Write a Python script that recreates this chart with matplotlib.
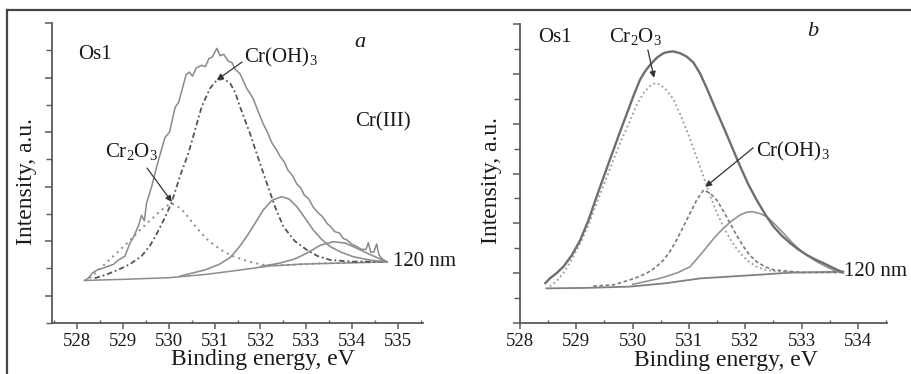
import matplotlib
matplotlib.use("Agg")
import matplotlib.pyplot as plt
from matplotlib.lines import Line2D
from matplotlib.ticker import MultipleLocator

plt.rcParams['font.family'] = ['Liberation Serif', 'DejaVu Serif']
plt.rcParams['mathtext.fontset'] = 'custom'
plt.rcParams['mathtext.rm'] = 'Liberation Serif'
plt.rcParams['mathtext.it'] = 'Liberation Serif:italic'
plt.rcParams['mathtext.default'] = 'regular'

# ---- panel a : spectrum and fitted components (eV, a.u.) ----
env_a_x = [528.17, 528.25, 528.35, 528.45, 528.55, 528.68, 528.8, 528.9, 529.05, 529.15,
           529.25, 529.35, 529.41, 529.47, 529.52, 529.63, 529.72, 529.8, 529.92, 530.02,
           530.14, 530.22, 530.3, 530.38, 530.45, 530.52, 530.6, 530.72, 530.8, 530.88,
           530.95, 531.05, 531.12, 531.2, 531.3, 531.38, 531.45, 531.55, 531.62, 531.7,
           531.78, 531.85, 531.95, 532.06, 532.15, 532.25, 532.35, 532.43, 532.52, 532.6,
           532.7, 532.79, 532.88, 532.95, 533.05, 533.15, 533.25, 533.35, 533.45, 533.52,
           533.62, 533.72, 533.8, 533.88, 533.98, 534.1, 534.2, 534.3, 534.35, 534.4,
           534.47, 534.53, 534.58, 534.65, 534.76]
env_a_y = [1.56, 1.64, 1.85, 1.95, 2.0, 2.08, 2.15, 2.3, 2.45, 2.9,
           3.2, 3.6, 3.95, 3.75, 4.4, 5.0, 5.6, 6.1, 6.8, 7.0,
           7.9, 8.1, 8.6, 9.1, 9.2, 9.05, 9.35, 9.45, 9.4, 9.7,
           9.75, 10.07, 9.8, 9.85, 9.6, 9.55, 9.3, 9.15, 8.9, 8.6,
           8.4, 8.2, 7.75, 7.3, 7.0, 6.6, 6.35, 6.1, 5.9, 5.6,
           5.4, 5.1, 4.95, 4.7, 4.55, 4.25, 4.05, 3.9, 3.65, 3.55,
           3.35, 3.3, 3.1, 3.05, 2.9, 2.8, 2.7, 2.7, 2.95, 2.6,
           2.6, 2.9, 2.5, 2.35, 2.24]

cr2o3_a_x = [528.28, 528.7, 529.05, 529.4, 529.75, 529.92, 530.06, 530.2, 530.35, 530.5,
             530.68, 530.85, 531.0, 531.2, 531.4, 531.75, 532.1, 532.6, 533.2, 534.0, 534.76]
cr2o3_a_y = [1.64, 2.3, 2.85, 3.45, 4.0, 4.25, 4.39, 4.27, 4.05, 3.72,
             3.35, 3.05, 2.85, 2.62, 2.45, 2.25, 2.12, 2.12, 2.18, 2.22, 2.24]

croh_a_x = [528.39, 528.65, 528.9, 529.15, 529.41, 529.6, 529.75, 529.9, 530.06, 530.25,
            530.43, 530.58, 530.72, 530.9, 531.05, 531.2, 531.34, 531.45, 531.55, 531.66,
            531.77, 531.95, 532.14, 532.32, 532.5, 532.75, 533.01, 533.25, 533.52, 534.0, 534.68]
croh_a_y = [1.64, 1.78, 1.95, 2.15, 2.45, 2.85, 3.3, 3.8, 4.39, 5.4,
            6.22, 7.1, 7.93, 8.6, 8.91, 8.95, 8.79, 8.45, 7.95, 7.45,
            6.96, 6.05, 5.12, 4.25, 3.53, 3.0, 2.68, 2.45, 2.31, 2.25, 2.25]

c1_a_x = [530.25, 530.8, 531.1, 531.34, 531.52, 531.7, 531.88, 532.06, 532.25, 532.46,
          532.62, 532.79, 532.97, 533.15, 533.33, 533.52, 533.75, 534.02, 534.4, 534.76]
c1_a_y = [1.72, 1.95, 2.15, 2.4, 2.75, 3.17, 3.65, 4.14, 4.5, 4.63,
          4.55, 4.27, 3.85, 3.41, 3.07, 2.8, 2.6, 2.43, 2.3, 2.24]

c2_a_x = [532.0, 532.43, 532.75, 533.01, 533.3, 533.59, 533.85, 534.1, 534.4, 534.76]
c2_a_y = [2.07, 2.2, 2.35, 2.56, 2.85, 2.98, 2.93, 2.74, 2.5, 2.24]

base_a_x = [528.17, 529.0, 530.0, 530.8, 531.5, 532.2, 532.9, 533.6, 534.76]
base_a_y = [1.56, 1.6, 1.66, 1.78, 1.93, 2.09, 2.16, 2.19, 2.24]

# ---- panel b ----
env_b_x = [528.45, 528.53, 528.65, 528.77, 528.92, 529.07, 529.22, 529.36, 529.51, 529.66,
           529.78, 529.9, 530.02, 530.13, 530.22, 530.31, 530.43, 530.55, 530.63, 530.72,
           530.84, 530.96, 531.08, 531.2, 531.32, 531.46, 531.61, 531.76, 531.91, 532.05,
           532.2, 532.35, 532.5, 532.65, 532.8, 532.95, 533.09, 533.24, 533.39, 533.55, 533.73]
env_b_y = [1.6, 1.79, 2.0, 2.26, 2.72, 3.33, 4.15, 5.07, 6.02, 6.95,
           7.7, 8.42, 9.15, 9.76, 10.1, 10.36, 10.65, 10.83, 10.88, 10.9,
           10.83, 10.69, 10.45, 10.0, 9.4, 8.65, 7.88, 7.08, 6.28, 5.58,
           4.94, 4.37, 3.87, 3.5, 3.2, 2.94, 2.73, 2.55, 2.4, 2.22, 2.03]

cr2o3_b_x = [528.53, 528.65, 528.77, 528.92, 529.07, 529.22, 529.36, 529.51, 529.66, 529.8,
             529.95, 530.07, 530.19, 530.3, 530.4, 530.5, 530.6, 530.72, 530.85, 531.0,
             531.16, 531.32, 531.46, 531.61, 531.76, 531.91, 532.05, 532.2, 532.38, 532.56,
             533.0, 533.73]
cr2o3_b_y = [1.47, 1.68, 2.0, 2.55, 3.2, 3.95, 4.8, 5.68, 6.55, 7.35,
             8.1, 8.75, 9.22, 9.5, 9.63, 9.55, 9.35, 9.0, 8.35, 7.5,
             6.5, 5.47, 4.6, 3.87, 3.25, 2.8, 2.48, 2.26, 2.12, 2.06,
             2.03, 2.03]

croh_b_x = [529.3, 529.66, 529.95, 530.1, 530.25, 530.4, 530.55, 530.67, 530.78, 530.9,
            531.02, 531.14, 531.26, 531.38, 531.49, 531.61, 531.73, 531.85, 531.97, 532.08,
            532.2, 532.35, 532.5, 533.0, 533.73]
croh_b_y = [1.48, 1.53, 1.73, 1.85, 2.0, 2.22, 2.53, 2.9, 3.33, 3.87,
            4.41, 4.95, 5.34, 5.2, 4.94, 4.5, 4.0, 3.5, 3.06, 2.72,
            2.46, 2.26, 2.13, 2.03, 2.03]

c1_b_x = [530.0, 530.5, 530.8, 531.02, 531.17, 531.32, 531.46, 531.61, 531.76, 531.91,
          532.02, 532.12, 532.25, 532.38, 532.53, 532.68, 532.82, 532.97, 533.12, 533.27,
          533.42, 533.56, 533.74]
c1_b_y = [1.55, 1.8, 2.02, 2.26, 2.65, 3.06, 3.45, 3.8, 4.1, 4.34,
          4.44, 4.47, 4.4, 4.27, 3.95, 3.6, 3.25, 2.93, 2.68, 2.46,
          2.28, 2.13, 2.06]

base_b_x = [528.47, 529.2, 529.95, 530.6, 531.2, 532.2, 532.8, 533.74]
base_b_y = [1.39, 1.41, 1.46, 1.6, 1.79, 1.93, 2.02, 2.06]

W, H = 912, 374
fig = plt.figure(figsize=(W / 100, H / 100), dpi=100)

spine_col = '#5a5a5a'
txt_col = '#1a1a1a'


def setup(ax, xlim, ylim, xmajor, ymajor_off):
    ax.set_xlim(*xlim)
    ax.set_ylim(*ylim)
    for s in ('top', 'right'):
        ax.spines[s].set_visible(False)
    for s in ('left', 'bottom'):
        ax.spines[s].set_color(spine_col)
        ax.spines[s].set_linewidth(1.3)
    ax.set_xticks(xmajor)
    ax.set_xticklabels([str(v) for v in xmajor])
    ax.xaxis.set_minor_locator(MultipleLocator(0.5))
    ax.set_yticks([v for v in range(ymajor_off, int(ylim[1]) + 1, 2)])
    ax.yaxis.set_minor_locator(MultipleLocator(1))
    ax.set_yticklabels([])
    ax.tick_params(axis='x', which='major', direction='out', length=4, width=1.1,
                   color=spine_col, labelsize=13.5, pad=3, labelcolor=txt_col)
    ax.tick_params(axis='x', which='minor', direction='in', length=2.5, width=1.0, color=spine_col)
    ax.tick_params(axis='y', which='major', direction='out', length=5, width=1.1, color=spine_col)
    ax.tick_params(axis='y', which='minor', direction='out', length=4, width=1.0, color=spine_col)
    ax.set_facecolor('none')


# panel a axes: left spine at x=52px, bottom at y=323px
ax1 = fig.add_axes([52 / W, 1 - 323 / H, 371 / W, 300 / H])
setup(ax1, (527.46, 535.54), (0, 11), [528, 529, 530, 531, 532, 533, 534, 535], 1)

ax1.plot(base_a_x, base_a_y, color='#8c8c8c', lw=1.1)
ax1.plot(env_a_x, env_a_y, color='#8a8a8a', lw=1.1)
ax1.plot(cr2o3_a_x, cr2o3_a_y, color='#8a8a8a', lw=1.4, ls=(0, (1, 2.2)))
ax1.plot(croh_a_x, croh_a_y, color='#555555', lw=1.3, ls=(0, (3, 1.6, 1, 1.6)))
ax1.plot(c1_a_x, c1_a_y, color='#8f8f8f', lw=1.2)
ax1.plot(c2_a_x, c2_a_y, color='#8f8f8f', lw=1.2)

fs = 15
ax1.text(528.02, 9.83, 'Os1', fontsize=fs, color=txt_col, va='center', ha='left')
ax1.text(534.17, 10.30, 'a', fontsize=fs + 1, style='italic', color=txt_col, va='center', ha='center')
ax1.text(531.64, 9.72, r'Cr(OH)$_3$', fontsize=fs, color=txt_col, va='center', ha='left')
ax1.text(534.06, 7.37, 'Cr(III)', fontsize=fs, color=txt_col, va='center', ha='left')
ax1.text(528.61, 6.27, r'Cr$_2$O$_3$', fontsize=fs, color=txt_col, va='center', ha='left')
ax1.text(534.89, 2.24, '120 nm', fontsize=fs, color=txt_col, va='center', ha='left', clip_on=False)
arr = dict(arrowstyle='-|>', color='#333333', lw=0.9, mutation_scale=9, shrinkA=0, shrinkB=0)
ax1.annotate('', xy=(531.05, 8.91), xytext=(531.6, 9.57), arrowprops=arr)
ax1.annotate('', xy=(530.07, 4.44), xytext=(529.53, 5.68), arrowprops=arr)

ax1.set_xlabel('Binding energy, eV', fontsize=17, color=txt_col)
ax1.set_ylabel('Intensity, a.u.', fontsize=17, color=txt_col)
ax1.xaxis.set_label_coords(0.569, -0.123)
ax1.xaxis.label.set_va('center')
ax1.yaxis.set_label_coords(-0.07, 0.47)
ax1.yaxis.label.set_va('center')

# panel b axes: left spine at x=520px
ax2 = fig.add_axes([520 / W, 1 - 323 / H, 366.7 / W, 299 / H])
setup(ax2, (528, 534.51), (0, 12), [528, 529, 530, 531, 532, 533, 534], 0)

ax2.plot(base_b_x, base_b_y, color='#808080', lw=1.3)
ax2.plot(cr2o3_b_x, cr2o3_b_y, color='#9a9a9a', lw=1.3, ls=(0, (1, 1.6)))
ax2.plot(croh_b_x, croh_b_y, color='#7a7a7a', lw=1.2, ls=(0, (2.2, 1.5)))
ax2.plot(c1_b_x, c1_b_y, color='#939393', lw=1.2)
ax2.plot(env_b_x, env_b_y, color='#6e6e6e', lw=1.7)

ax2.text(528.32, 11.45, 'Os1', fontsize=fs, color=txt_col, va='center', ha='left')
ax2.text(533.2, 11.69, 'b', fontsize=fs + 1, style='italic', color=txt_col, va='center', ha='center')
ax2.text(529.58, 11.49, r'Cr$_2$O$_3$', fontsize=fs, color=txt_col, va='center', ha='left')
ax2.text(532.19, 6.87, r'Cr(OH)$_3$', fontsize=fs, color=txt_col, va='center', ha='left')
ax2.text(533.75, 2.05, '120 nm', fontsize=fs, color=txt_col, va='center', ha='left', clip_on=False)
ax2.annotate('', xy=(530.38, 9.84), xytext=(530.27, 10.96), arrowprops=arr)
ax2.annotate('', xy=(531.29, 5.46), xytext=(532.14, 7.03), arrowprops=arr)

ax2.set_xlabel('Binding energy, eV', fontsize=17, color=txt_col)
ax2.set_ylabel('Intensity, a.u.', fontsize=17, color=txt_col)
ax2.xaxis.set_label_coords(0.562, -0.124)
ax2.xaxis.label.set_va('center')
ax2.yaxis.set_label_coords(-0.077, 0.478)
ax2.yaxis.label.set_va('center')

# outer frame: top and left lines only
yt = 1 - 9.5 / H
xl = 7 / W
fig.add_artist(Line2D([xl, 1], [yt, yt], color='#444444', lw=1.6, transform=fig.transFigure))
fig.add_artist(Line2D([xl, xl], [0, yt], color='#444444', lw=1.6, transform=fig.transFigure))

fig.savefig('out.png', dpi=100)
